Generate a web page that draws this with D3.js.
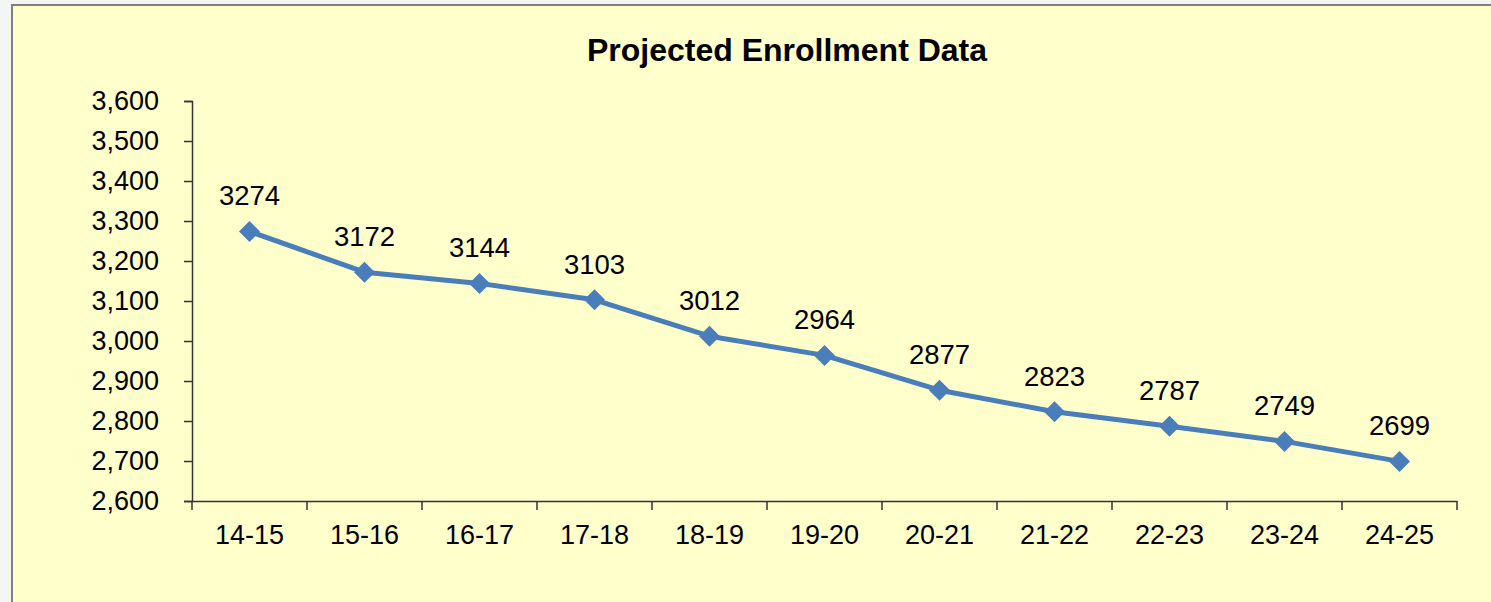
<!DOCTYPE html>
<html>
<head>
<meta charset="utf-8">
<script src="https://cdn.jsdelivr.net/npm/d3@7"></script>
<style>
  html, body { margin: 0; padding: 0; background: #f3f6f3; }
  text { font-family: "Liberation Sans", Arial, sans-serif; fill: #000; }
</style>
</head>
<body>
<div class="display"></div>
<script>
const years = ['14-15', '15-16', '16-17', '17-18', '18-19', '19-20', '20-21', '21-22', '22-23', '23-24', '24-25'];
const enrollment = [3274, 3172, 3144, 3103, 3012, 2964, 2877, 2823, 2787, 2749, 2699];
const yTicks = [2600, 2700, 2800, 2900, 3000, 3100, 3200, 3300, 3400, 3500, 3600];

const width = 1491;
const height = 602;
const plotLeft = 192;
const plotRight = 1457;
const plotTop = 101;
const plotBottom = 501;

const svg = d3.select('.display')
    .append('svg')
    .attr('width', width)
    .attr('height', height)
    .style('display', 'block');

// chart box
svg.append('rect')
    .attr('x', 12)
    .attr('y', 5)
    .attr('width', width)
    .attr('height', height)
    .attr('fill', '#ffffcc')
    .attr('stroke', '#7f7f7f')
    .attr('stroke-width', 2);

svg.append('text')
    .attr('x', 787)
    .attr('y', 61)
    .attr('text-anchor', 'middle')
    .style('font-size', '32px')
    .style('font-weight', 'bold')
    .text('Projected Enrollment Data');

const xScale = d3.scaleBand()
    .domain(years)
    .range([plotLeft, plotRight]);

const yScale = d3.scaleLinear()
    .domain([2600, 3600])
    .range([plotBottom, plotTop]);

const yAxis = d3.axisLeft(yScale)
    .tickValues(yTicks)
    .tickFormat(d3.format(','))
    .tickSize(8)
    .tickPadding(25);

const yG = svg.append('g')
    .attr('transform', `translate(${plotLeft}, 0)`)
    .call(yAxis);
yG.select('.domain').attr('stroke', '#333').attr('stroke-width', 1.5);
yG.selectAll('.tick line').attr('stroke', '#333').attr('stroke-width', 1.5);
yG.selectAll('text').style('font-size', '27px').attr('fill', '#000');

const xAxis = d3.axisBottom(xScale)
    .tickSize(0)
    .tickPadding(24);

const xG = svg.append('g')
    .attr('transform', `translate(0, ${plotBottom})`)
    .call(xAxis);
xG.select('.domain').attr('stroke', '#333').attr('stroke-width', 1.5);
xG.selectAll('text').style('font-size', '27px').attr('fill', '#000');

// tick marks between categories
const bounds = years.map(d => xScale(d)).concat([xScale.range()[1]]);
xG.selectAll('.bound')
    .data(bounds)
    .enter()
    .append('line')
    .attr('class', 'bound')
    .attr('x1', d => d)
    .attr('x2', d => d)
    .attr('y1', 0)
    .attr('y2', 9)
    .attr('stroke', '#333')
    .attr('stroke-width', 1.5);

const cx = d => xScale(d) + xScale.bandwidth() / 2;
const points = years.map((d, i) => ({ year: d, value: enrollment[i] }));

const line = d3.line()
    .x(d => cx(d.year))
    .y(d => yScale(d.value));

svg.append('path')
    .datum(points)
    .attr('d', line)
    .attr('fill', 'none')
    .attr('stroke', '#4a7ebb')
    .attr('stroke-width', 5)
    .attr('stroke-linejoin', 'round');

svg.selectAll('.marker')
    .data(points)
    .enter()
    .append('path')
    .attr('class', 'marker')
    .attr('transform', d => `translate(${cx(d.year)}, ${yScale(d.value)})`)
    .attr('d', 'M0,-10.5L10.5,0L0,10.5L-10.5,0Z')
    .attr('fill', '#4a7ebb');

svg.selectAll('.value-label')
    .data(points)
    .enter()
    .append('text')
    .attr('class', 'value-label')
    .attr('x', d => cx(d.year))
    .attr('y', d => yScale(d.value) - 26)
    .attr('text-anchor', 'middle')
    .style('font-size', '27.5px')
    .text(d => d.value);
</script>
</body>
</html>
